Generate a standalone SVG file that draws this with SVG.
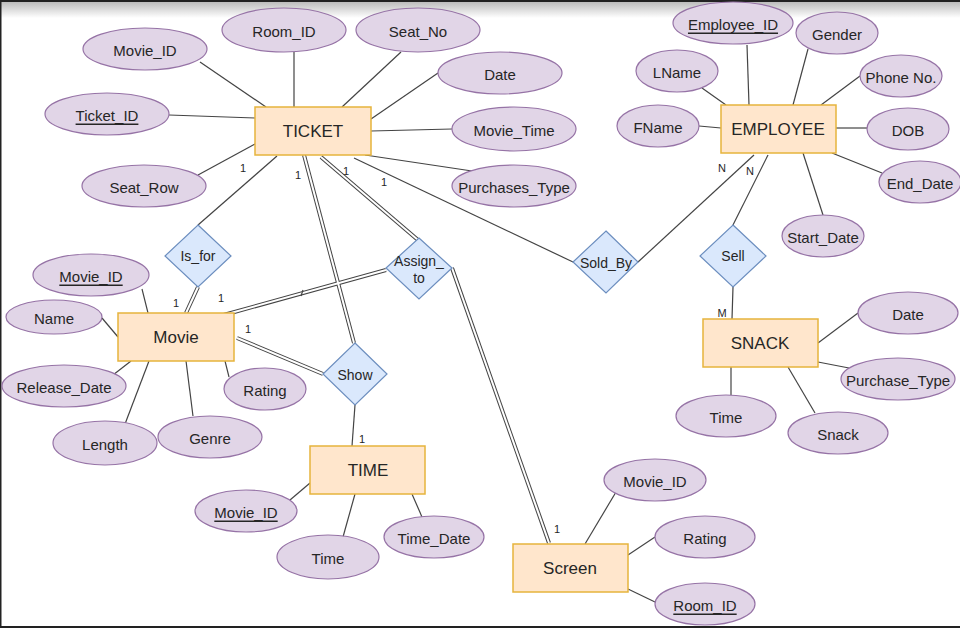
<svg xmlns="http://www.w3.org/2000/svg" width="960" height="628" viewBox="0 0 960 628">
<defs>
<linearGradient id="topfade" x1="0" y1="0" x2="0" y2="1">
<stop offset="0" stop-color="#bdbdbd"/>
<stop offset="1" stop-color="#ffffff"/>
</linearGradient>
</defs>
<style>
.attr{fill:#e1d5e7;stroke:#9673a6;stroke-width:1.2}
.ent{fill:#ffe6cc;stroke:#e6b43c;stroke-width:1.5}
.rel{fill:#dae8fc;stroke:#6c8ebf;stroke-width:1.2}
.ln{stroke:#444;stroke-width:1.2;fill:none}
.dbo{stroke:#444;stroke-width:4;fill:none}
.dbi{stroke:#fff;stroke-width:2;fill:none}
text{font-family:"Liberation Sans",Arial,sans-serif;fill:#262626;text-anchor:middle;dominant-baseline:central}
.at{font-size:15px}
.et{font-size:17px}
.rt{font-size:14px}
.ct{font-size:11px}
.u{text-decoration:underline}
</style>
<rect x="0" y="0" width="960" height="628" fill="#ffffff"/>
<rect x="0" y="2" width="960" height="16" fill="url(#topfade)"/>
<rect x="0" y="0" width="960" height="2" fill="#222"/>
<rect x="0" y="0" width="1.5" height="628" fill="#222"/>
<rect x="0" y="626" width="960" height="2" fill="#222"/>

<g id="connectors">
<!-- TICKET attributes -->
<line class="ln" x1="200" y1="62" x2="266" y2="107"/>
<line class="ln" x1="294" y1="52" x2="294" y2="107"/>
<line class="ln" x1="401" y1="52" x2="342" y2="107"/>
<line class="ln" x1="438" y1="73" x2="371" y2="119"/>
<line class="ln" x1="452" y1="129" x2="371" y2="131"/>
<line class="ln" x1="365" y1="155" x2="472" y2="171"/>
<line class="ln" x1="169" y1="115" x2="255" y2="118"/>
<line class="ln" x1="198" y1="175" x2="255" y2="144"/>
<!-- TICKET relationships -->
<line class="ln" x1="277" y1="156" x2="198" y2="225"/>
<line class="ln" x1="354" y1="158" x2="573" y2="262"/>
<!-- Movie attributes -->
<line class="ln" x1="142" y1="289" x2="148" y2="313"/>
<line class="ln" x1="102" y1="318" x2="118" y2="337"/>
<line class="ln" x1="113" y1="375" x2="131" y2="361"/>
<line class="ln" x1="125" y1="424" x2="149" y2="361"/>
<line class="ln" x1="193" y1="416" x2="186" y2="361"/>
<line class="ln" x1="229" y1="377" x2="225" y2="361"/>
<!-- Show - TIME -->
<line class="ln" x1="355" y1="405" x2="352" y2="446"/>
<!-- TIME attributes -->
<line class="ln" x1="290" y1="500" x2="310" y2="483"/>
<line class="ln" x1="343" y1="537" x2="355" y2="494"/>
<line class="ln" x1="422" y1="517" x2="412" y2="494"/>
<!-- Screen attributes -->
<line class="ln" x1="616" y1="492" x2="585" y2="544"/>
<line class="ln" x1="655" y1="537" x2="628" y2="555"/>
<line class="ln" x1="655" y1="602" x2="628" y2="589"/>
<!-- EMPLOYEE attributes -->
<line class="ln" x1="747" y1="45" x2="749" y2="105"/>
<line class="ln" x1="808" y1="49" x2="793" y2="105"/>
<line class="ln" x1="860" y1="76" x2="821" y2="105"/>
<line class="ln" x1="867" y1="128" x2="836" y2="128"/>
<line class="ln" x1="882" y1="173" x2="832" y2="153"/>
<line class="ln" x1="702" y1="88" x2="726" y2="105"/>
<line class="ln" x1="699" y1="126" x2="721" y2="128"/>
<line class="ln" x1="803" y1="153" x2="823" y2="215"/>
<!-- EMPLOYEE relationships -->
<line class="ln" x1="754" y1="155" x2="638" y2="262"/>
<line class="ln" x1="768" y1="155" x2="733" y2="225"/>
<!-- Sell - SNACK -->
<line class="ln" x1="733" y1="287" x2="732" y2="319"/>
<!-- SNACK attributes -->
<line class="ln" x1="858" y1="313" x2="818" y2="343"/>
<line class="ln" x1="849" y1="368" x2="818" y2="362"/>
<line class="ln" x1="815" y1="413" x2="788" y2="367"/>
<line class="ln" x1="731" y1="395" x2="731" y2="367"/>
<!-- double (total participation) lines -->
<g>
<line class="dbo" x1="304" y1="155" x2="354" y2="343"/>
<line class="dbo" x1="321" y1="157" x2="418" y2="240"/>
<line class="dbo" x1="186" y1="313" x2="198" y2="287"/>
<line class="dbo" x1="220" y1="316" x2="386" y2="270"/>
<line class="dbo" x1="237" y1="338" x2="323" y2="374"/>
<line class="dbo" x1="452" y1="268" x2="549" y2="543"/>
<line class="dbi" x1="304" y1="155" x2="354" y2="343"/>
<line class="dbi" x1="321" y1="157" x2="418" y2="240"/>
<line class="dbi" x1="186" y1="313" x2="198" y2="287"/>
<line class="dbi" x1="220" y1="316" x2="386" y2="270"/>
<line class="dbi" x1="237" y1="338" x2="323" y2="374"/>
<line class="dbi" x1="452" y1="268" x2="549" y2="543"/>
</g>
<line class="ln" x1="301" y1="296" x2="303" y2="290"/>
<!-- cardinality labels -->
<text class="ct" x="243" y="168">1</text>
<text class="ct" x="298" y="175">1</text>
<text class="ct" x="346" y="171">1</text>
<text class="ct" x="384" y="182">1</text>
<text class="ct" x="176" y="303">1</text>
<text class="ct" x="221" y="298">1</text>
<text class="ct" x="248" y="329">1</text>
<text class="ct" x="362" y="439">1</text>
<text class="ct" x="557" y="529">1</text>
<text class="ct" x="722" y="168">N</text>
<text class="ct" x="750" y="171">N</text>
<text class="ct" x="722" y="313">M</text>
</g>

<!-- TICKET -->
<g id="ticket">
<rect class="ent" x="255" y="107" width="116" height="48"/>
<text class="et" x="313" y="131">TICKET</text>
</g>
<g id="ticket-movie-id"><ellipse class="attr" cx="145" cy="49" rx="62" ry="21"/><text class="at" x="145" y="50">Movie_ID</text></g>
<g id="ticket-room-id"><ellipse class="attr" cx="284" cy="30" rx="62" ry="22"/><text class="at" x="284" y="31">Room_ID</text></g>
<g id="ticket-seat-no"><ellipse class="attr" cx="418" cy="30" rx="62" ry="22"/><text class="at" x="418" y="31">Seat_No</text></g>
<g id="ticket-ticket-id"><ellipse class="attr" cx="107" cy="114" rx="62" ry="21"/><text class="at u" x="107" y="115">Ticket_ID</text></g>
<g id="ticket-seat-row"><ellipse class="attr" cx="144" cy="186" rx="62" ry="21"/><text class="at" x="144" y="187">Seat_Row</text></g>
<g id="ticket-date"><ellipse class="attr" cx="500" cy="73" rx="62" ry="21"/><text class="at" x="500" y="74">Date</text></g>
<g id="ticket-movie-time"><ellipse class="attr" cx="514" cy="129" rx="62" ry="22"/><text class="at" x="514" y="130">Movie_Time</text></g>
<g id="ticket-purchases-type"><ellipse class="attr" cx="514" cy="186" rx="62" ry="21"/><text class="at" x="514" y="187">Purchases_Type</text></g>

<!-- Relationships -->
<g id="is-for"><polygon class="rel" points="198,225 231,256 198,287 165,256"/><text class="rt" x="198" y="256">Is_for</text></g>
<g id="assign-to"><polygon class="rel" points="419,238 452,268 419,299 386,268"/><text class="rt" x="419" y="261">Assign_</text><text class="rt" x="419" y="278">to</text></g>
<g id="show"><polygon class="rel" points="355,343 387,374 355,405 323,374"/><text class="rt" x="355" y="375">Show</text></g>
<g id="sold-by"><polygon class="rel" points="606,231 638,262 606,293 573,262"/><text class="rt" x="606" y="263">Sold_By</text></g>
<g id="sell"><polygon class="rel" points="733,225 766,256 733,287 700,256"/><text class="rt" x="733" y="256">Sell</text></g>

<!-- Movie -->
<g id="movie">
<rect class="ent" x="118" y="313" width="116" height="48"/>
<text class="et" x="176" y="337">Movie</text>
</g>
<g id="movie-movie-id"><ellipse class="attr" cx="91" cy="275" rx="58" ry="21"/><text class="at u" x="91" y="276">Movie_ID</text></g>
<g id="movie-name"><ellipse class="attr" cx="54" cy="317" rx="48" ry="17"/><text class="at" x="54" y="318">Name</text></g>
<g id="movie-release-date"><ellipse class="attr" cx="64" cy="386" rx="62" ry="21"/><text class="at" x="64" y="387">Release_Date</text></g>
<g id="movie-length"><ellipse class="attr" cx="105" cy="443" rx="52" ry="22"/><text class="at" x="105" y="444">Length</text></g>
<g id="movie-genre"><ellipse class="attr" cx="210" cy="437" rx="52" ry="21"/><text class="at" x="210" y="438">Genre</text></g>
<g id="movie-rating"><ellipse class="attr" cx="265" cy="389" rx="41" ry="21"/><text class="at" x="265" y="390">Rating</text></g>

<!-- TIME -->
<g id="time">
<rect class="ent" x="310" y="446" width="115" height="48"/>
<text class="et" x="368" y="470">TIME</text>
</g>
<g id="time-movie-id"><ellipse class="attr" cx="246" cy="511" rx="51" ry="21"/><text class="at u" x="246" y="512">Movie_ID</text></g>
<g id="time-time"><ellipse class="attr" cx="328" cy="557" rx="51" ry="22"/><text class="at" x="328" y="558">Time</text></g>
<g id="time-time-date"><ellipse class="attr" cx="434" cy="537" rx="50" ry="21"/><text class="at" x="434" y="538">Time_Date</text></g>

<!-- Screen -->
<g id="screen">
<rect class="ent" x="513" y="544" width="115" height="48"/>
<text class="et" x="570" y="568">Screen</text>
</g>
<g id="screen-movie-id"><ellipse class="attr" cx="655" cy="480" rx="51" ry="21"/><text class="at" x="655" y="481">Movie_ID</text></g>
<g id="screen-rating"><ellipse class="attr" cx="705" cy="537" rx="50" ry="21"/><text class="at" x="705" y="538">Rating</text></g>
<g id="screen-room-id"><ellipse class="attr" cx="705" cy="604" rx="50" ry="21"/><text class="at u" x="705" y="605">Room_ID</text></g>

<!-- EMPLOYEE -->
<g id="employee">
<rect class="ent" x="721" y="105" width="115" height="48"/>
<text class="et" x="778" y="129">EMPLOYEE</text>
</g>
<g id="employee-employee-id"><ellipse class="attr" cx="733" cy="23" rx="60" ry="21"/><text class="at u" x="733" y="24">Employee_ID</text></g>
<g id="employee-gender"><ellipse class="attr" cx="837" cy="33" rx="41" ry="21"/><text class="at" x="837" y="34">Gender</text></g>
<g id="employee-phone"><ellipse class="attr" cx="901" cy="76" rx="41" ry="21"/><text class="at" x="901" y="77">Phone No.</text></g>
<g id="employee-dob"><ellipse class="attr" cx="908" cy="129" rx="41" ry="21"/><text class="at" x="908" y="130">DOB</text></g>
<g id="employee-end-date"><ellipse class="attr" cx="920" cy="182" rx="41" ry="21"/><text class="at" x="920" y="183">End_Date</text></g>
<g id="employee-lname"><ellipse class="attr" cx="677" cy="71" rx="41" ry="21"/><text class="at" x="677" y="72">LName</text></g>
<g id="employee-fname"><ellipse class="attr" cx="658" cy="126" rx="41" ry="21"/><text class="at" x="658" y="127">FName</text></g>
<g id="employee-start-date"><ellipse class="attr" cx="823" cy="236" rx="41" ry="21"/><text class="at" x="823" y="237">Start_Date</text></g>

<!-- SNACK -->
<g id="snack">
<rect class="ent" x="703" y="319" width="115" height="48"/>
<text class="et" x="760" y="343">SNACK</text>
</g>
<g id="snack-date"><ellipse class="attr" cx="908" cy="313" rx="50" ry="21"/><text class="at" x="908" y="314">Date</text></g>
<g id="snack-purchase-type"><ellipse class="attr" cx="898" cy="379" rx="57" ry="21"/><text class="at" x="898" y="380">Purchase_Type</text></g>
<g id="snack-snack"><ellipse class="attr" cx="838" cy="433" rx="50" ry="21"/><text class="at" x="838" y="434">Snack</text></g>
<g id="snack-time"><ellipse class="attr" cx="726" cy="416" rx="50" ry="21"/><text class="at" x="726" y="417">Time</text></g>
</svg>
